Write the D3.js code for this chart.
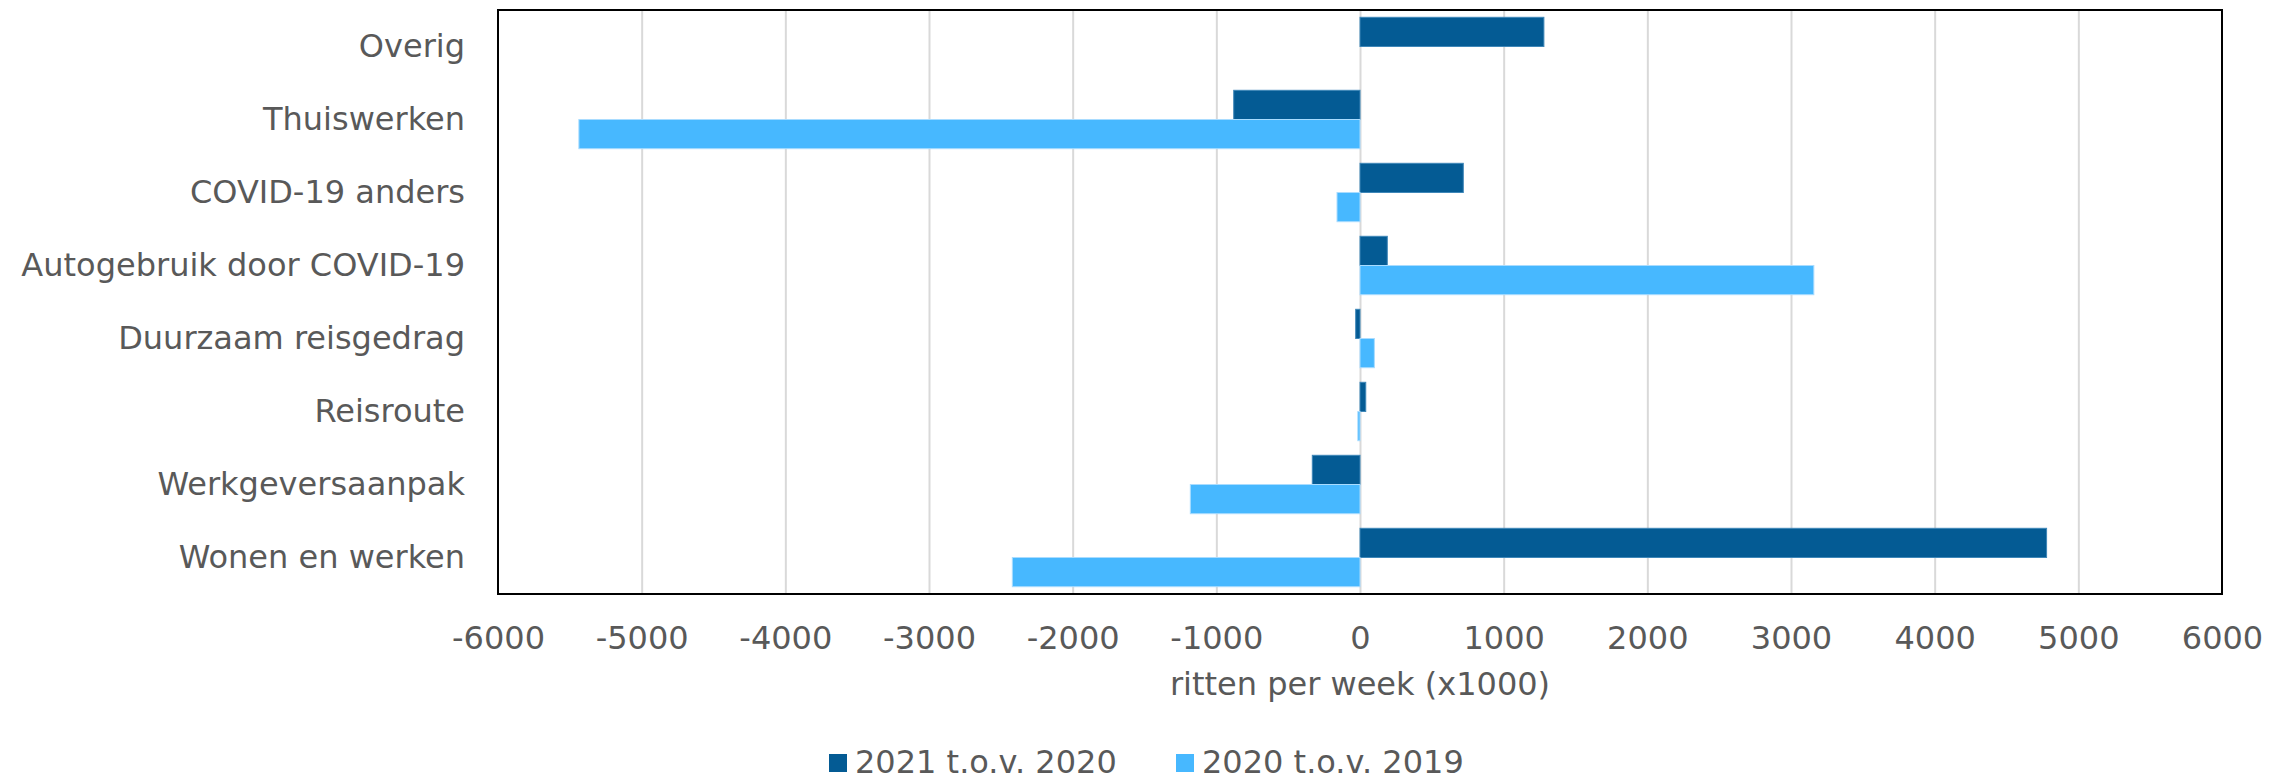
<!DOCTYPE html>
<html>
<head>
<meta charset="utf-8">
<script src="https://cdn.jsdelivr.net/npm/d3@7"></script>
<style>
	body { margin: 0; background: white; }
	svg { display: block; font-family: "DejaVu Sans", Verdana, sans-serif; }
</style>
</head>
<body>
<svg id="chart" width="2289" height="777"></svg>
<script>

var categories = ["Overig", "Thuiswerken", "COVID-19 anders", "Autogebruik door COVID-19", "Duurzaam reisgedrag", "Reisroute", "Werkgeversaanpak", "Wonen en werken"];
var seriesNames = ["2021 t.o.v. 2020", "2020 t.o.v. 2019"];
var values2021 = [1280, -879, 719, 190, -30, 40, -332, 4779];
var values2020 = [0, -5437, -160, 3159, 100, -15, -1181, -2420];
var xTicks = [-6000, -5000, -4000, -3000, -2000, -1000, 0, 1000, 2000, 3000, 4000, 5000, 6000];
var xTitle = "ritten per week (x1000)";

var colors = ["#045b94", "#47b8ff"];
var outlines = ["#3f87b8", "#a9dcff"];

function renderChart(element) {

	var svg = d3.select(element);

	var margin = {
		top: 10,
		bottom: 594,
		left: 498,
		right: 2222
	};

	var textColor = "#595959";
	var fontSize = 32;

	var xScale = d3.scaleLinear()
		.domain([xTicks[0], xTicks[xTicks.length - 1]])
		.range([margin.left, margin.right]);

	var yScale = d3.scaleBand()
		.domain(categories)
		.range([margin.top, margin.bottom])
		.paddingInner(0.2)
		.paddingOuter(0.1);

	var seriesScale = d3.scaleBand()
		.domain([0, 1])
		.range([0, yScale.bandwidth()]);

	//gridlines
	svg.append("g")
		.attr("transform", "translate(0," + margin.bottom + ")")
		.call(d3.axisBottom(xScale).tickValues(xTicks.slice(1, -1)).tickSize(-(margin.bottom - margin.top)).tickFormat(""))
		.call(g => g.select(".domain").remove())
		.call(g => g.selectAll("line").attr("stroke", "#d9d9d9").attr("stroke-width", 2));

	var rows = categories.map((c, i) => [c, values2021[i], values2020[i]]);

	var groups = svg.selectAll(".category")
		.data(rows)
		.enter()
		.append("g")
		.attr("class", "category")
		.attr("transform", d => "translate(0," + yScale(d[0]) + ")");

	groups.selectAll("rect")
		.data(d => [d[1], d[2]])
		.enter()
		.filter(d => d != 0)
		.append("rect")
		.attr("x", d => xScale(Math.min(0, d)))
		.attr("y", (d, i) => seriesScale(i))
		.attr("width", d => Math.abs(xScale(d) - xScale(0)))
		.attr("height", seriesScale.bandwidth())
		.attr("fill", (d, i) => colors[i])
		.attr("stroke", (d, i) => outlines[i])
		.attr("stroke-width", 1);

	//plot border
	svg.append("rect")
		.attr("x", margin.left)
		.attr("y", margin.top)
		.attr("width", margin.right - margin.left)
		.attr("height", margin.bottom - margin.top)
		.attr("fill", "none")
		.attr("stroke", "black")
		.attr("stroke-width", 2);

	svg.append("g")
		.attr("transform", "translate(0," + margin.bottom + ")")
		.call(d3.axisBottom(xScale).tickValues(xTicks).tickSize(0).tickPadding(32).tickFormat(d => String(d)))
		.attr("font-family", null)
		.attr("font-size", fontSize)
		.call(g => g.select(".domain").remove())
		.call(g => g.selectAll("text").attr("fill", textColor));

	svg.append("g")
		.attr("transform", "translate(" + margin.left + ",0)")
		.call(d3.axisLeft(yScale).tickSize(0).tickPadding(33))
		.attr("font-family", null)
		.attr("font-size", fontSize)
		.call(g => g.select(".domain").remove())
		.call(g => g.selectAll("text").attr("fill", textColor));

	svg.append("text")
		.attr("x", (margin.left + margin.right) / 2)
		.attr("y", 695)
		.attr("text-anchor", "middle")
		.attr("fill", textColor)
		.attr("font-size", fontSize)
		.text(xTitle);

	var legendX = [829, 1176];

	var legend = svg.selectAll(".legend")
		.data(seriesNames)
		.enter()
		.append("g")
		.attr("class", "legend")
		.attr("transform", (d, i) => "translate(" + legendX[i] + ",754)");

	legend.append("rect")
		.attr("width", 18)
		.attr("height", 18)
		.attr("fill", (d, i) => colors[i]);

	legend.append("text")
		.attr("x", 26)
		.attr("y", 19)
		.attr("fill", textColor)
		.attr("font-size", fontSize)
		.text(d => d);

}

renderChart("#chart");

</script>
</body>
</html>
